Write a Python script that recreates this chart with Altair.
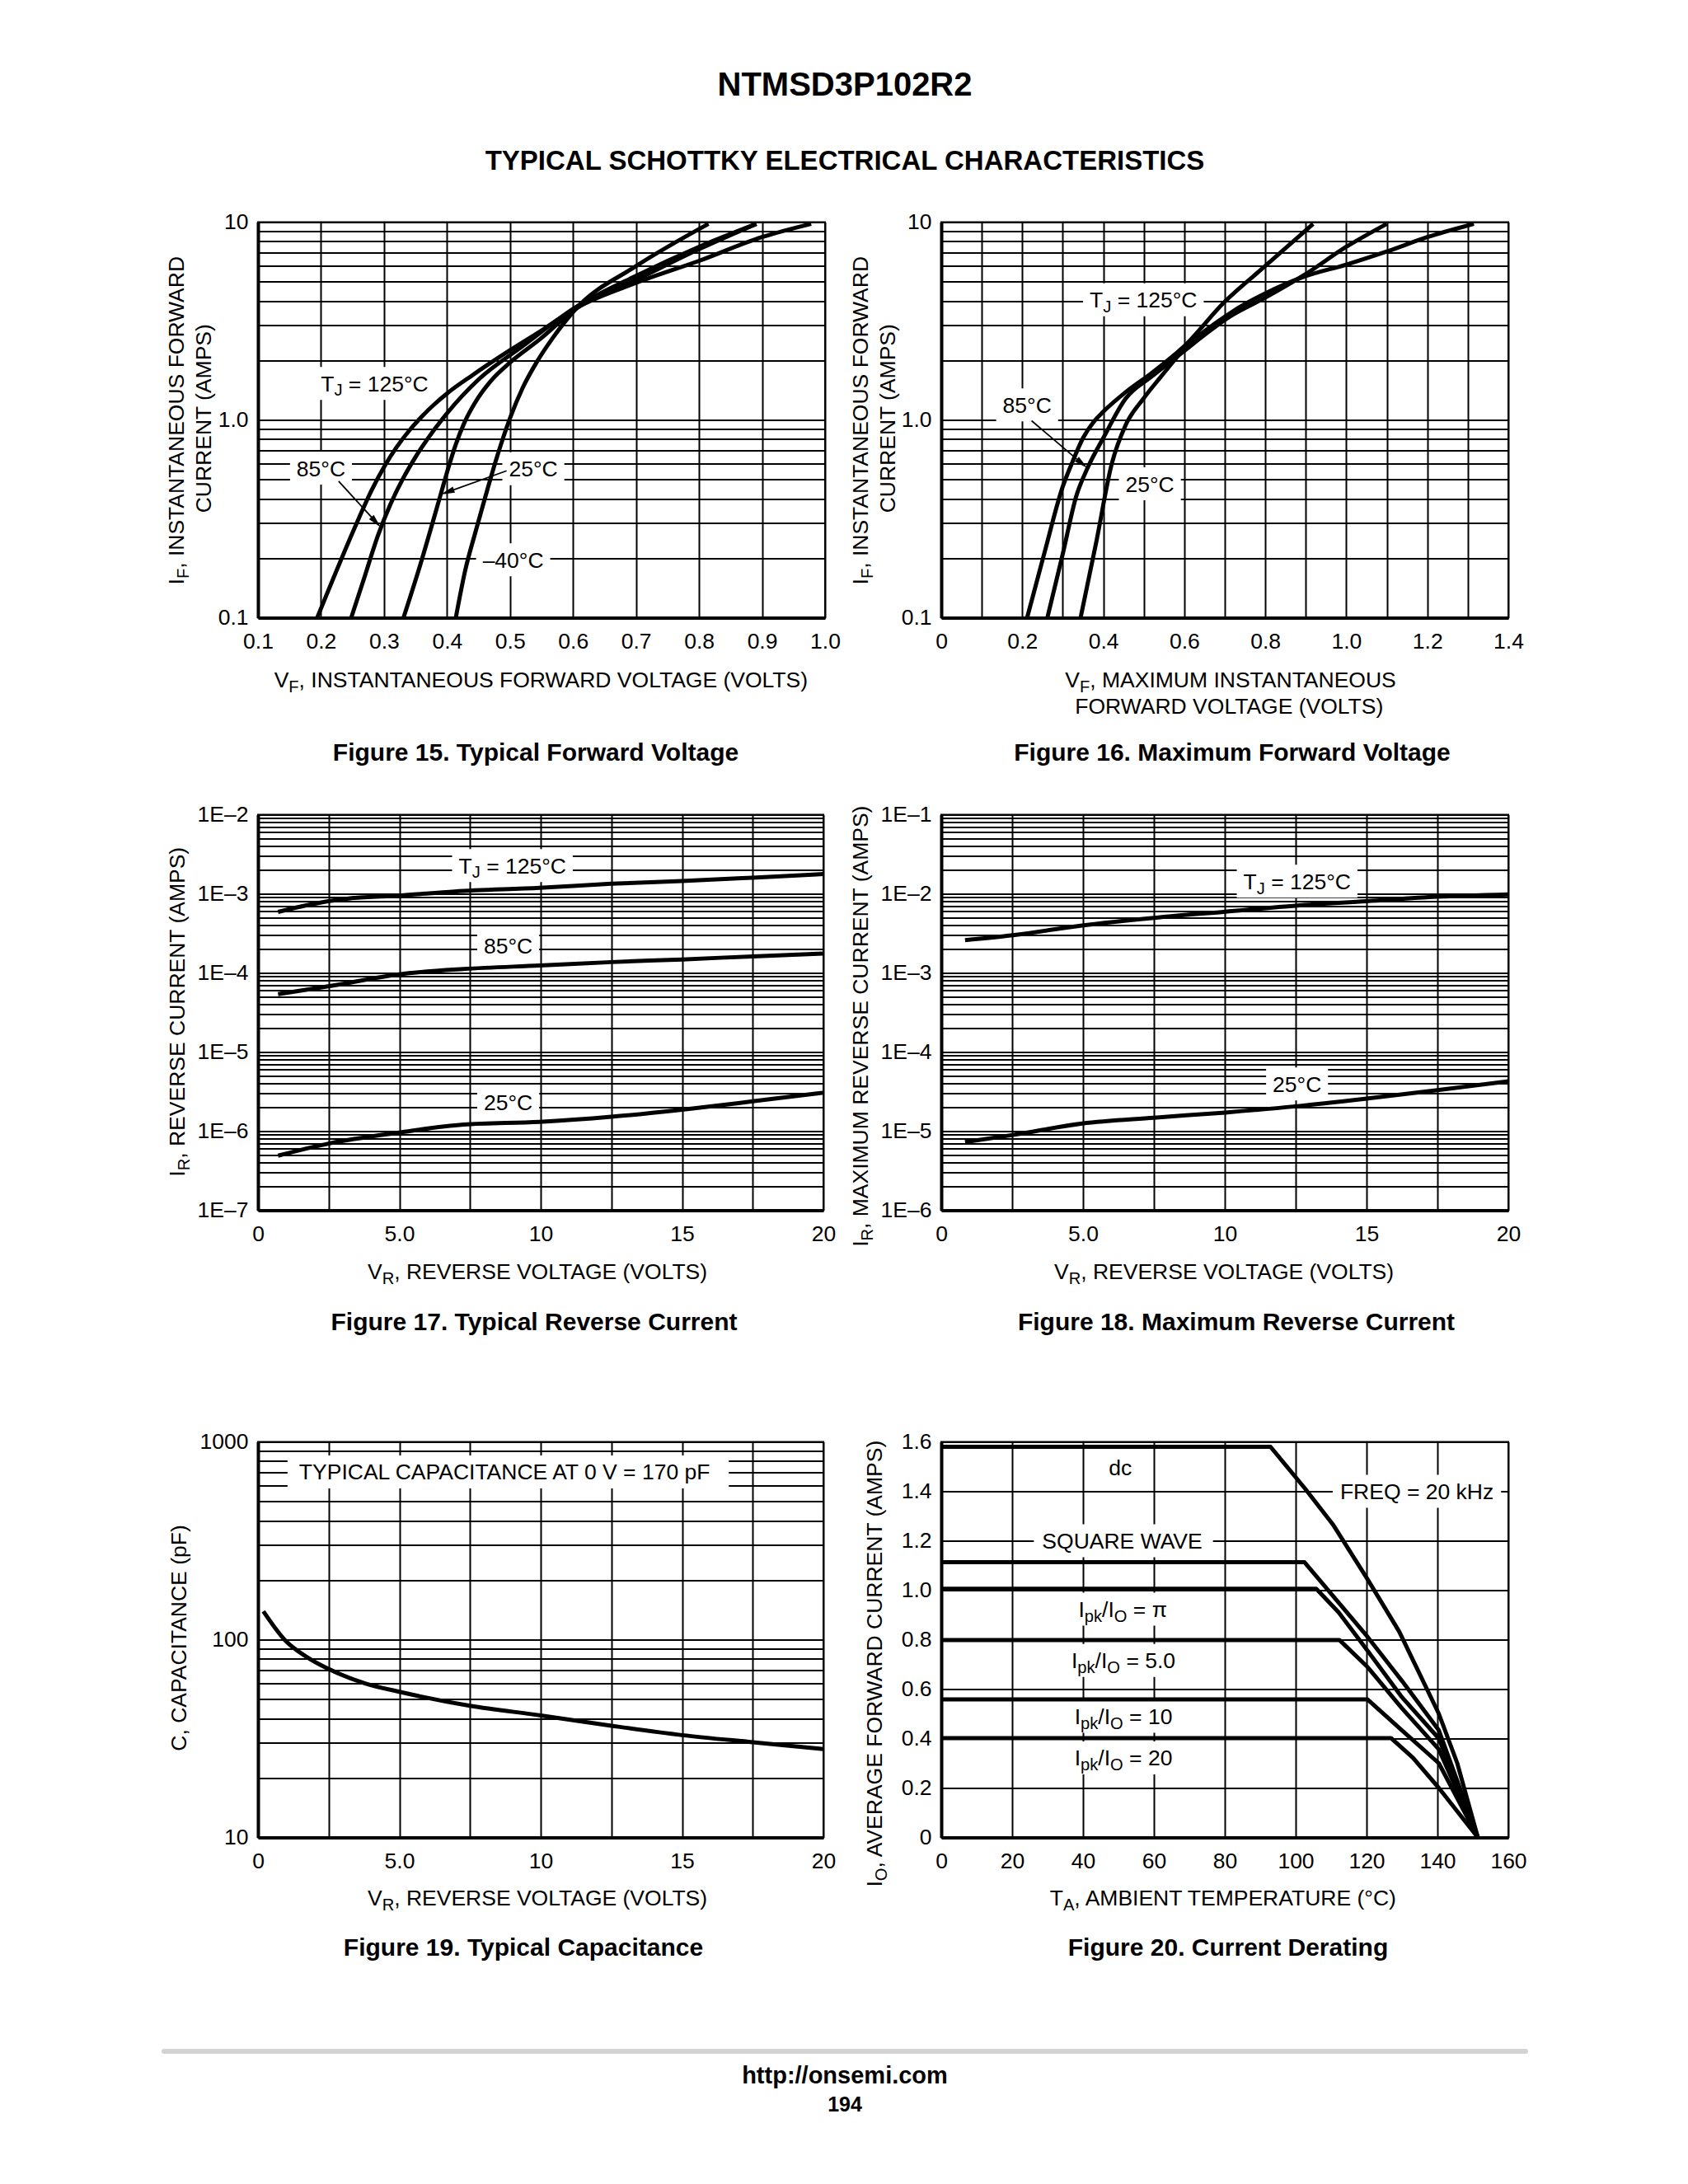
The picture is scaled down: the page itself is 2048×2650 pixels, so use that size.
import math
import altair as alt
import pandas as pd

# ------------------------------------------------------------------
# Values (NTMSD3P102R2 datasheet page)
# ------------------------------------------------------------------
TITLE = "NTMSD3P102R2"
SUBTITLE = "TYPICAL SCHOTTKY ELECTRICAL CHARACTERISTICS"
FOOT_URL = "http://onsemi.com"
FOOT_PAGE = "194"

# Figure 15: typical forward voltage (VF volts, IF amps)
F15_125_V = [0.194, 0.260, 0.280, 0.300, 0.320, 0.340, 0.360, 0.380, 0.400, 0.440, 0.500, 0.550, 0.603, 0.700, 0.800, 0.900, 0.978]
F15_125_I = [0.10, 0.318, 0.439, 0.578, 0.728, 0.883, 1.04, 1.20, 1.36, 1.68, 2.25, 2.83, 3.65, 4.93, 6.37, 8.40, 9.80]
F15_85_V = [0.248, 0.270, 0.290, 0.310, 0.330, 0.350, 0.370, 0.400, 0.450, 0.520, 0.603, 0.700, 0.800, 0.891]
F15_85_I = [0.10, 0.164, 0.258, 0.373, 0.504, 0.649, 0.809, 1.08, 1.60, 2.36, 3.69, 5.35, 7.50, 9.80]
F15_25_V = [0.331, 0.355, 0.390, 0.402, 0.414, 0.428, 0.445, 0.470, 0.500, 0.547, 0.603, 0.700, 0.800, 0.891]
F15_25_I = [0.10, 0.174, 0.42, 0.571, 0.753, 0.975, 1.23, 1.58, 1.95, 2.55, 3.62, 5.10, 7.30, 9.80]
F15_M40_V = [0.414, 0.429, 0.445, 0.460, 0.480, 0.500, 0.520, 0.542, 0.568, 0.603, 0.700, 0.815]
F15_M40_I = [0.10, 0.174, 0.27, 0.40, 0.66, 1.02, 1.45, 1.95, 2.60, 3.60, 5.99, 9.80]

# Figure 16: maximum forward voltage
F16_125_V = [0.212, 0.254, 0.300, 0.322, 0.350, 0.375, 0.400, 0.455, 0.520, 0.598, 0.700, 0.800, 0.918]
F16_125_I = [0.10, 0.21, 0.46, 0.60, 0.81, 0.97, 1.10, 1.38, 1.73, 2.34, 3.96, 6.00, 9.80]
F16_85_V = [0.262, 0.300, 0.333, 0.361, 0.400, 0.455, 0.520, 0.587, 0.720, 0.800, 0.896, 1.000, 1.100]
F16_85_I = [0.10, 0.21, 0.41, 0.57, 0.81, 1.28, 1.66, 2.13, 3.40, 4.15, 5.40, 7.50, 9.80]
F16_25_V = [0.344, 0.383, 0.421, 0.455, 0.499, 0.543, 0.587, 0.720, 0.800, 0.896, 1.000, 1.100, 1.200, 1.315]
F16_25_I = [0.10, 0.243, 0.60, 0.94, 1.28, 1.66, 2.13, 3.54, 4.36, 5.30, 6.10, 7.10, 8.40, 9.80]

# Figure 17: typical reverse current (VR volts, IR amps)
F17_125_V = [0.71, 1.74, 3.32, 5.0, 6.96, 9.96, 12.5, 15.0, 17.5, 20.0]
F17_125_I = [5.9e-4, 7.2e-4, 8.8e-4, 9.5e-4, 1.07e-3, 1.19e-3, 1.34e-3, 1.45e-3, 1.60e-3, 1.78e-3]
F17_85_V = [0.71, 2.53, 5.0, 7.27, 9.96, 12.5, 15.0, 17.5, 20.0]
F17_85_I = [5.4e-5, 6.8e-5, 9.6e-5, 1.12e-4, 1.24e-4, 1.37e-4, 1.48e-4, 1.62e-4, 1.76e-4]
F17_25_V = [0.71, 2.53, 5.0, 7.27, 9.96, 12.5, 15.0, 17.5, 20.0]
F17_25_I = [4.9e-7, 7.0e-7, 9.6e-7, 1.21e-6, 1.31e-6, 1.52e-6, 1.87e-6, 2.38e-6, 3.06e-6]

# Figure 18: maximum reverse current
F18_125_V = [0.84, 2.53, 4.97, 7.5, 10.02, 12.5, 15.0, 17.5, 20.0]
F18_125_I = [2.6e-3, 3.0e-3, 3.98e-3, 4.97e-3, 5.95e-3, 7.07e-3, 8.05e-3, 9.18e-3, 9.85e-3]
F18_25_V = [0.84, 2.53, 4.97, 7.5, 10.02, 12.5, 15.0, 17.5, 20.0]
F18_25_I = [7.3e-6, 8.95e-6, 1.25e-5, 1.48e-5, 1.72e-5, 2.06e-5, 2.58e-5, 3.30e-5, 4.27e-5]

# Figure 19: typical capacitance (VR volts, C pF)
F19_V = [0.19, 0.95, 1.74, 2.45, 3.79, 5.0, 7.5, 10.0, 12.5, 15.0, 17.5, 20.0]
F19_C = [139, 99.6, 81.5, 71.6, 60.1, 54.5, 46.3, 41.4, 36.7, 32.9, 30.3, 28.0]

# Figure 20: current derating (TA degC, IO amps)
F20_DC_T = [0, 92.9, 102.7, 110.5, 120.3, 129.2, 140.4, 145.6, 151.4]
F20_DC_I = [1.58, 1.58, 1.41, 1.266, 1.044, 0.833, 0.50, 0.30, 0.0]
F20_SQ_T = [0, 102.5, 120.3, 130.0, 140.4, 151.4]
F20_SQ_I = [1.113, 1.113, 0.811, 0.633, 0.433, 0.0]
F20_PI_T = [0, 105.8, 112.1, 120.3, 130.0, 140.4, 151.4]
F20_PI_I = [1.006, 1.006, 0.911, 0.755, 0.567, 0.40, 0.0]
F20_5_T = [0, 112.4, 120.3, 130.0, 140.4, 151.4]
F20_5_I = [0.798, 0.798, 0.689, 0.522, 0.356, 0.0]
F20_10_T = [0, 120.3, 130.0, 140.4, 151.4]
F20_10_I = [0.558, 0.558, 0.433, 0.30, 0.0]
F20_20_T = [0, 126.9, 133.1, 140.4, 151.4]
F20_20_I = [0.402, 0.402, 0.322, 0.20, 0.0]

# Tick values / labels
F15_XMAJOR = [0.1, 0.2, 0.3, 0.4, 0.5, 0.6, 0.7, 0.8, 0.9, 1.0]
F15_XLAB = ["0.1", "0.2", "0.3", "0.4", "0.5", "0.6", "0.7", "0.8", "0.9", "1.0"]
IF_YMAJOR = [0.1, 1.0, 10.0]
IF_YLAB = ["0.1", "1.0", "10"]
F16_XMAJOR = [0.0, 0.2, 0.4, 0.6, 0.8, 1.0, 1.2, 1.4]
F16_XLAB = ["0", "0.2", "0.4", "0.6", "0.8", "1.0", "1.2", "1.4"]
VR_XMAJOR = [0, 5, 10, 15, 20]
VR_XLAB = ["0", "5.0", "10", "15", "20"]
F17_YMAJOR = [1e-7, 1e-6, 1e-5, 1e-4, 1e-3, 1e-2]
F17_YLAB = ["1E\u20137", "1E\u20136", "1E\u20135", "1E\u20134", "1E\u20133", "1E\u20132"]
F18_YMAJOR = [1e-6, 1e-5, 1e-4, 1e-3, 1e-2, 1e-1]
F18_YLAB = ["1E\u20136", "1E\u20135", "1E\u20134", "1E\u20133", "1E\u20132", "1E\u20131"]
F19_YMAJOR = [10, 100, 1000]
F19_YLAB = ["10", "100", "1000"]
F20_XMAJOR = [0, 20, 40, 60, 80, 100, 120, 140, 160]
F20_XLAB = ["0", "20", "40", "60", "80", "100", "120", "140", "160"]
F20_YMAJOR = [0.0, 0.2, 0.4, 0.6, 0.8, 1.0, 1.2, 1.4, 1.6]
F20_YLAB = ["0", "0.2", "0.4", "0.6", "0.8", "1.0", "1.2", "1.4", "1.6"]

DEG = "\u00b0"

# ------------------------------------------------------------------
# Styling / layout
# ------------------------------------------------------------------
FONT = "Liberation Sans, Arial, Helvetica, sans-serif"
FS = 26.5
CAP_FS = 30
GRID_W = 2.0
DOMAIN_W = 4
CURVE_W = 5
BOX_H = 40
SUB_SCALE = 0.76
SUB_DROP = 0.22
CAP_MID = 0.358        # cap-centre -> alphabetic baseline (em)

COL_GAP = 141
ROW_H = 480
HDR_H = 219
GAP1 = 239
GAP2 = 281
FOOT_H = 350

ONE = pd.DataFrame({"a": [0]})

_W = {" ": 278, ",": 278, ".": 278, "(": 333, ")": 333, "=": 584, "/": 278, ":": 278, "-": 333,
      "\u00b0": 400, "\u2013": 556, "\u03c0": 556}
for _c in "0123456789":
    _W[_c] = 556
_W.update(dict(A=667, B=667, C=722, D=722, E=667, F=611, G=778, H=722, I=278, J=500, K=667, L=556,
               M=833, N=722, O=778, P=667, Q=778, R=722, S=667, T=611, U=722, V=667, W=944, X=667,
               Y=667, Z=611))
_W.update(dict(a=556, b=556, c=500, d=556, e=556, f=278, g=556, h=556, i=222, j=222, k=500, l=222,
               m=833, n=556, o=556, p=556, q=556, r=333, s=500, t=278, u=556, v=500, w=722, x=500,
               y=500, z=500))


def tw(s, fs):
    return sum(_W.get(c, 556) for c in s) * fs / 1000.0


def layout_parts(parts, fs):
    # Vega trims whitespace, so leading spaces become an explicit offset
    out, cur = [], 0.0
    for t, sub in parts:
        f = fs * SUB_SCALE if sub else fs
        core = t.lstrip(" ")
        cur += tw(t[: len(t) - len(core)], f)
        out.append((core, cur, f, SUB_DROP * fs if sub else 0.0))
        cur += tw(core, f)
    return out, cur


def label_expr(major, labels):
    expr = "''"
    for v, lab in reversed(list(zip(major, labels))):
        if v == 0:
            cond = "abs(datum.value) < 1e-9"
        else:
            cond = "abs(datum.value / %r - 1) < 1e-6" % float(v)
        expr = "(%s) ? '%s' : %s" % (cond, lab, expr)
    return expr


def log_values(e0, e1):
    vals = [m * 10.0 ** e for e in range(e0, e1) for m in range(1, 10)]
    return vals + [10.0 ** e1]


def make_axis(values, major, labels, pad, is_x):
    kw = dict(values=values, labelExpr=label_expr(major, labels), grid=True,
              gridColor="black", gridWidth=GRID_W, gridOpacity=1, ticks=False, tickSize=0,
              domain=True, domainColor="black", domainWidth=DOMAIN_W,
              labelFont=FONT, labelFontSize=FS, labelColor="black", labelPadding=pad,
              labelFlush=False, labelOverlap=False, title=None)
    if is_x:
        kw["labelAngle"] = 0
    return alt.Axis(**kw)


class Panel:
    def __init__(self, w, h, xd, yd, ylog):
        self.w, self.h, self.xd, self.yd, self.ylog = w, h, xd, yd, ylog

    def px(self, x):
        return (x - self.xd[0]) / (self.xd[1] - self.xd[0]) * self.w

    def ix(self, p):
        return self.xd[0] + p / self.w * (self.xd[1] - self.xd[0])

    def py(self, y):
        if self.ylog:
            a, b = math.log10(self.yd[0]), math.log10(self.yd[1])
            return (b - math.log10(y)) / (b - a) * self.h
        return (self.yd[1] - y) / (self.yd[1] - self.yd[0]) * self.h

    def iy(self, p):
        if self.ylog:
            a, b = math.log10(self.yd[0]), math.log10(self.yd[1])
            return 10 ** (b - p / self.h * (b - a))
        return self.yd[1] - p / self.h * (self.yd[1] - self.yd[0])


HEAD_PATH = "M0,-1L0.45,1L-0.45,1Z"
HEAD_L = 17


def rich_pixel(parts, cx, cy, angle=0, fs=FS):
    items, total = layout_parts(parts, fs)
    out = []
    for t, off, f, drop in items:
        out.append(alt.Chart(ONE).mark_text(
            text=t, align="left", baseline="alphabetic", font=FONT, fontSize=f, color="black",
            angle=angle, dx=-total / 2 + off, dy=CAP_MID * fs + drop
        ).encode(x=alt.value(cx), y=alt.value(cy)))
    return out


def caption(text, cx, cy):
    return alt.Chart(ONE).mark_text(
        text=text, align="center", baseline="alphabetic", font=FONT, fontSize=CAP_FS,
        fontWeight="bold", color="black", dy=CAP_MID * CAP_FS
    ).encode(x=alt.value(cx), y=alt.value(cy))


def build_panel(P, xaxis, yaxis, curves, interp, labels, arrows, extra):
    if P.ylog:
        sy = alt.Scale(type="log", domain=list(P.yd), nice=False)
    else:
        sy = alt.Scale(domain=list(P.yd), nice=False, zero=False)
    sx = alt.Scale(domain=list(P.xd), nice=False, zero=False)
    X = alt.X("x:Q", scale=sx, axis=xaxis)
    Y = alt.Y("y:Q", scale=sy, axis=yaxis)

    layers = []
    brows, trows = [], []
    for parts, cx, cy, pad in labels:
        items, total = layout_parts(parts, FS)
        pcx, pcy = P.px(cx), P.py(cy)
        if pad is not None:
            brows.append(dict(x=P.ix(pcx - total / 2 - pad), x2=P.ix(pcx + total / 2 + pad),
                              y=P.iy(pcy + BOX_H / 2), y2=P.iy(pcy - BOX_H / 2)))
        for t, off, f, drop in items:
            trows.append(dict(x=P.ix(pcx - total / 2 + off), y=P.iy(pcy + CAP_MID * FS + drop),
                              t=t, fs=f))
    if brows:
        layers.append(alt.Chart(pd.DataFrame(brows)).mark_rect(color="white").encode(
            x=X, x2=alt.X2("x2"), y=Y, y2=alt.Y2("y2")))

    rows = []
    for name, xs, ys in curves:
        for i, (a, b) in enumerate(zip(xs, ys)):
            rows.append(dict(s=name, i=i, x=a, y=b))
    layers.append(alt.Chart(pd.DataFrame(rows)).mark_line(
        color="black", strokeWidth=CURVE_W, interpolate=interp, strokeJoin="round"
    ).encode(x=X, y=Y, detail="s:N", order="i:Q"))

    if arrows:
        arows, hrows = [], []
        for x0, y0, x1, y1 in arrows:
            p0x, p0y, p1x, p1y = P.px(x0), P.py(y0), P.px(x1), P.py(y1)
            L = math.hypot(p1x - p0x, p1y - p0y)
            ux, uy = (p1x - p0x) / L, (p1y - p0y) / L
            ang = (math.degrees(math.atan2(ux, -uy)) + 360.0) % 360.0
            cxp, cyp = p1x - ux * HEAD_L / 2, p1y - uy * HEAD_L / 2
            arows.append(dict(x=x0, y=y0, x2=P.ix(cxp), y2=P.iy(cyp)))
            hrows.append(dict(x=P.ix(cxp), y=P.iy(cyp), ang=ang))
        layers.append(alt.Chart(pd.DataFrame(arows)).mark_rule(color="black", strokeWidth=1.8).encode(
            x=X, y=Y, x2=alt.X2("x2"), y2=alt.Y2("y2")))
        layers.append(alt.Chart(pd.DataFrame(hrows)).mark_point(
            shape=HEAD_PATH, size=HEAD_L * HEAD_L, filled=True, color="black", opacity=1, strokeWidth=0
        ).encode(x=X, y=Y, angle=alt.Angle("ang:Q", scale=None)))

    layers.append(alt.Chart(pd.DataFrame(trows)).mark_text(
        align="left", baseline="alphabetic", font=FONT, color="black"
    ).encode(x=X, y=Y, text="t:N", size=alt.Size("fs:Q", scale=None)))
    layers += extra
    return alt.layer(*layers).properties(
        width=P.w, height=P.h, view=alt.ViewBackground(stroke="black", strokeWidth=2))


def spacer(h):
    return alt.Chart(ONE).mark_point(opacity=0).encode(
        x=alt.value(0), y=alt.value(h / 2)).properties(width=1, height=h)


TJ125 = [("T", 0), ("J", 1), (" = 125" + DEG + "C", 0)]
IPK = [("I", 0), ("pk", 1), ("/I", 0), ("O", 1)]

# ---------------- Figure 15 ----------------
P15 = Panel(688, ROW_H, (0.1, 1.0), (0.1, 10.0), True)
c15 = build_panel(
    P15,
    make_axis([round(0.1 * k, 1) for k in range(1, 11)], F15_XMAJOR, F15_XLAB, 16, True),
    make_axis(log_values(-1, 1), IF_YMAJOR, IF_YLAB, 12, False),
    [("125", F15_125_V, F15_125_I), ("85", F15_85_V, F15_85_I),
     ("25", F15_25_V, F15_25_I), ("-40", F15_M40_V, F15_M40_I)],
    "monotone",
    [(TJ125, 0.285, 1.53, 8), ([("85" + DEG + "C", 0)], 0.200, 0.57, 8),
     ([("25" + DEG + "C", 0)], 0.537, 0.566, 8), ([("\u201340" + DEG + "C", 0)], 0.505, 0.196, 8)],
    [(0.228, 0.49, 0.295, 0.286), (0.4946, 0.553, 0.390, 0.42)],
    rich_pixel([("I", 0), ("F", 1), (", INSTANTANEOUS FORWARD", 0)], -99, 238, angle=270)
    + rich_pixel([("CURRENT (AMPS)", 0)], -66, 238, angle=270)
    + rich_pixel([("V", 0), ("F", 1), (", INSTANTANEOUS FORWARD VOLTAGE (VOLTS)", 0)], 349, 555.5)
    + [caption("Figure 15. Typical Forward Voltage", 337, 643)],
)

# ---------------- Figure 16 ----------------
P16 = Panel(688, ROW_H, (0.0, 1.4), (0.1, 10.0), True)
c16 = build_panel(
    P16,
    make_axis([round(0.1 * k, 1) for k in range(0, 15)], F16_XMAJOR, F16_XLAB, 16, True),
    make_axis(log_values(-1, 1), IF_YMAJOR, IF_YLAB, 12, False),
    [("125", F16_125_V, F16_125_I), ("85", F16_85_V, F16_85_I), ("25", F16_25_V, F16_25_I)],
    "monotone",
    [(TJ125, 0.499, 4.05, 8), ([("85" + DEG + "C", 0)], 0.212, 1.19, 8),
     ([("25" + DEG + "C", 0)], 0.515, 0.475, 8)],
    [(0.223, 0.99, 0.361, 0.57)],
    rich_pixel([("I", 0), ("F", 1), (", INSTANTANEOUS FORWARD", 0)], -98, 238, angle=270)
    + rich_pixel([("CURRENT (AMPS)", 0)], -65, 238, angle=270)
    + rich_pixel([("V", 0), ("F", 1), (", MAXIMUM INSTANTANEOUS", 0)], 353, 555.5)
    + rich_pixel([("FORWARD VOLTAGE (VOLTS)", 0)], 353, 587.5)
    + [caption("Figure 16. Maximum Forward Voltage", 353, 643)],
)

VR_VALUES = [2.5 * k for k in range(0, 9)]

# ---------------- Figure 17 ----------------
P17 = Panel(686, ROW_H, (0.0, 20.0), (1e-7, 1e-2), True)
c17 = build_panel(
    P17,
    make_axis(VR_VALUES, VR_XMAJOR, VR_XLAB, 16, True),
    make_axis(log_values(-7, -2), F17_YMAJOR, F17_YLAB, 12, False),
    [("125", F17_125_V, F17_125_I), ("85", F17_85_V, F17_85_I), ("25", F17_25_V, F17_25_I)],
    "monotone",
    [(TJ125, 9.0, 2.28e-3, 8), ([("85" + DEG + "C", 0)], 8.85, 2.21e-4, 8),
     ([("25" + DEG + "C", 0)], 8.85, 2.33e-6, 8)],
    [],
    rich_pixel([("I", 0), ("R", 1), (", REVERSE CURRENT (AMPS)", 0)], -98, 239, angle=270)
    + rich_pixel([("V", 0), ("R", 1), (", REVERSE VOLTAGE (VOLTS)", 0)], 342, 554.5)
    + [caption("Figure 17. Typical Reverse Current", 335, 615)],
)

# ---------------- Figure 18 ----------------
P18 = Panel(688, ROW_H, (0.0, 20.0), (1e-6, 1e-1), True)
c18 = build_panel(
    P18,
    make_axis(VR_VALUES, VR_XMAJOR, VR_XLAB, 16, True),
    make_axis(log_values(-6, -1), F18_YMAJOR, F18_YLAB, 12, False),
    [("125", F18_125_V, F18_125_I), ("25", F18_25_V, F18_25_I)],
    "monotone",
    [(TJ125, 12.55, 1.44e-2, 8), ([("25" + DEG + "C", 0)], 12.55, 3.94e-5, 8)],
    [],
    rich_pixel([("I", 0), ("R", 1), (", MAXIMUM REVERSE CURRENT (AMPS)", 0)], -98, 256.5, angle=270)
    + rich_pixel([("V", 0), ("R", 1), (", REVERSE VOLTAGE (VOLTS)", 0)], 346, 554.5)
    + [caption("Figure 18. Maximum Reverse Current", 358, 615)],
)

# ---------------- Figure 19 ----------------
P19 = Panel(686, ROW_H, (0.0, 20.0), (10.0, 1000.0), True)
c19 = build_panel(
    P19,
    make_axis(VR_VALUES, VR_XMAJOR, VR_XLAB, 16, True),
    make_axis(log_values(1, 3), F19_YMAJOR, F19_YLAB, 12, False),
    [("C", F19_V, F19_C)],
    "monotone",
    [([("TYPICAL CAPACITANCE AT 0 V = 170 pF", 0)], 8.85, 705, 14)],
    [],
    rich_pixel([("C, CAPACITANCE (pF)", 0)], -96, 236, angle=270)
    + rich_pixel([("V", 0), ("R", 1), (", REVERSE VOLTAGE (VOLTS)", 0)], 342, 553.5)
    + [caption("Figure 19. Typical Capacitance", 322, 612.5)],
)

# ---------------- Figure 20 ----------------
P20 = Panel(688, ROW_H, (0.0, 160.0), (0.0, 1.6), False)
c20 = build_panel(
    P20,
    make_axis([20 * k for k in range(0, 9)], F20_XMAJOR, F20_XLAB, 16, True),
    make_axis([round(0.2 * k, 1) for k in range(0, 9)], F20_YMAJOR, F20_YLAB, 12, False),
    [("dc", F20_DC_T, F20_DC_I), ("sq", F20_SQ_T, F20_SQ_I), ("pi", F20_PI_T, F20_PI_I),
     ("5", F20_5_T, F20_5_I), ("10", F20_10_T, F20_10_I), ("20", F20_20_T, F20_20_I)],
    "linear",
    [([("dc", 0)], 50.5, 1.495, None),
     ([("FREQ = 20 kHz", 0)], 134.2, 1.40, 9),
     ([("SQUARE WAVE", 0)], 51.4, 1.20, 10),
     (IPK + [(" = \u03c0", 0)], 50.8, 0.923, 8),
     (IPK + [(" = 5.0", 0)], 51.4, 0.716, 8),
     (IPK + [(" = 10", 0)], 51.4, 0.49, 8),
     (IPK + [(" = 20", 0)], 51.4, 0.322, 8)],
    [],
    rich_pixel([("I", 0), ("O", 1), (", AVERAGE FORWARD CURRENT (AMPS)", 0)], -81, 266.5, angle=270)
    + rich_pixel([("T", 0), ("A", 1), (", AMBIENT TEMPERATURE (" + DEG + "C)", 0)], 344, 553.5)
    + [caption("Figure 20. Current Derating", 348, 612.5)],
)

# ---------------- header / footer cells ----------------
header = alt.layer(
    alt.Chart(ONE).mark_rule(color="white", strokeWidth=1).encode(
        x=alt.value(0), x2=alt.value(20), y=alt.value(0)),
    alt.Chart(ONE).mark_text(text=TITLE, font=FONT, fontSize=40, fontWeight="bold", align="center",
                             baseline="alphabetic", color="black").encode(
        x=alt.value(712), y=alt.value(65.2)),
    alt.Chart(ONE).mark_text(text=SUBTITLE, font=FONT, fontSize=33, fontWeight="bold", align="center",
                             baseline="alphabetic", color="black").encode(
        x=alt.value(712), y=alt.value(155.3)),
).properties(width=1, height=HDR_H)

footer = alt.layer(
    alt.Chart(ONE).mark_rule(color="#d3d3d3", strokeWidth=6, strokeCap="round").encode(
        x=alt.value(-114), x2=alt.value(1538), y=alt.value(259.5)),
    alt.Chart(ONE).mark_text(text=FOOT_URL, font=FONT, fontSize=29, fontWeight="bold", align="center",
                             baseline="alphabetic", color="black").encode(
        x=alt.value(712), y=alt.value(298.9)),
    alt.Chart(ONE).mark_text(text=FOOT_PAGE, font=FONT, fontSize=25, fontWeight="bold", align="center",
                             baseline="alphabetic", color="black").encode(
        x=alt.value(712), y=alt.value(332.5)),
).properties(width=1, height=FOOT_H)

cells = [header, spacer(HDR_H),
         c15, c16,
         spacer(GAP1), spacer(GAP1),
         c17, c18,
         spacer(GAP2), spacer(GAP2),
         c19, c20,
         footer, spacer(FOOT_H)]

chart = alt.concat(
    *cells, columns=2, spacing={"row": 0, "column": COL_GAP}, bounds="flush"
).properties(
    padding={"left": 187, "top": 41.5, "right": 10, "bottom": 10},
    background="white",
).configure_view(stroke="transparent")

chart.save("out.html", embed_options={"renderer": "svg", "actions": False})
